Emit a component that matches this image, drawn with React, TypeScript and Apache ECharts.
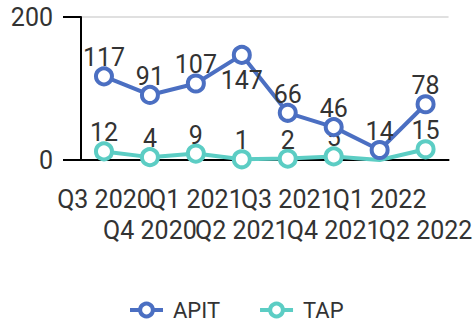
import React, { useEffect, useRef } from "react";
import * as echarts from "echarts";

const categories = ["Q3 2020", "Q4 2020", "Q1 2021", "Q2 2021", "Q3 2021", "Q4 2021", "Q1 2022", "Q2 2022"];
const apit = [117, 91, 107, 147, 66, 46, 14, 78];
const tap = [12, 4, 9, 1, 2, 5, 0, 15];
const yTicks = [0, 200];

const BLUE = "#4b6fc2";
const TEAL = "#5ccdc4";
const TEXT = "#333333";
const FONT = "Roboto";
const FS = 25;

export default function App() {
  const ref = useRef<HTMLDivElement>(null);
  useEffect(() => {
    document.body.style.margin = "0";
    if (!ref.current) return;
    const chart = echarts.init(ref.current, undefined, { renderer: "svg" });
    const labelStyle = { show: true, position: "top", distance: -4, fontSize: FS, color: TEXT, fontFamily: FONT };
    chart.setOption({
      animation: false,
      textStyle: { fontFamily: FONT },
      grid: { left: 81, right: 20, top: 17, bottom: 163, containLabel: false },
      legend: {
        bottom: 2,
        left: 128,
        padding: 0,
        itemWidth: 33,
        itemHeight: 16,
        itemGap: 38,
        lineStyle: { width: 4 },
        itemStyle: { borderWidth: 4 },
        textStyle: { fontSize: 22, color: TEXT, fontFamily: FONT, padding: [0, 0, 0, 5] },
        data: ["APIT", "TAP"],
      },
      xAxis: {
        type: "category",
        data: categories,
        axisLine: { lineStyle: { color: "#000", width: 2 } },
        axisTick: { alignWithLabel: true, length: 18, lineStyle: { color: "#000", width: 2 } },
        axisLabel: {
          interval: 0,
          margin: 24,
          fontSize: FS,
          lineHeight: 31,
          color: TEXT,
          fontFamily: FONT,
          formatter: (v: string, i: number) => (i % 2 === 1 ? "\n" + v : v),
        },
      },
      yAxis: {
        type: "value",
        min: yTicks[0],
        max: yTicks[1],
        interval: yTicks[1] - yTicks[0],
        axisLine: { show: true, lineStyle: { color: "#000", width: 2 } },
        axisTick: { show: true, length: 18, lineStyle: { color: "#000", width: 2 } },
        axisLabel: { margin: 28, fontSize: FS, color: TEXT, fontFamily: FONT, padding: [5, 0, 0, 0] },
        splitLine: { lineStyle: { color: "#e0e0e0", width: 2 } },
      },
      series: [
        {
          name: "APIT",
          type: "line",
          data: apit.map((v, i) => (i === 3 ? { value: v, label: { position: "bottom", distance: 3 } } : v)),
          symbol: "circle",
          symbolSize: 16,
          lineStyle: { color: BLUE, width: 4 },
          itemStyle: { color: "#fff", borderColor: BLUE, borderWidth: 4 },
          label: labelStyle,
          z: 3,
        },
        {
          name: "TAP",
          type: "line",
          data: tap.map((v, i) => (i === 6 ? { value: v, symbol: "none", label: { show: false } } : v)),
          symbol: "circle",
          symbolSize: 16,
          lineStyle: { color: TEAL, width: 4 },
          itemStyle: { color: "#fff", borderColor: TEAL, borderWidth: 4 },
          label: labelStyle,
          z: 2,
        },
      ],
    });
    return () => chart.dispose();
  }, []);
  return <div ref={ref} style={{ width: 475, height: 323 }} />;
}
